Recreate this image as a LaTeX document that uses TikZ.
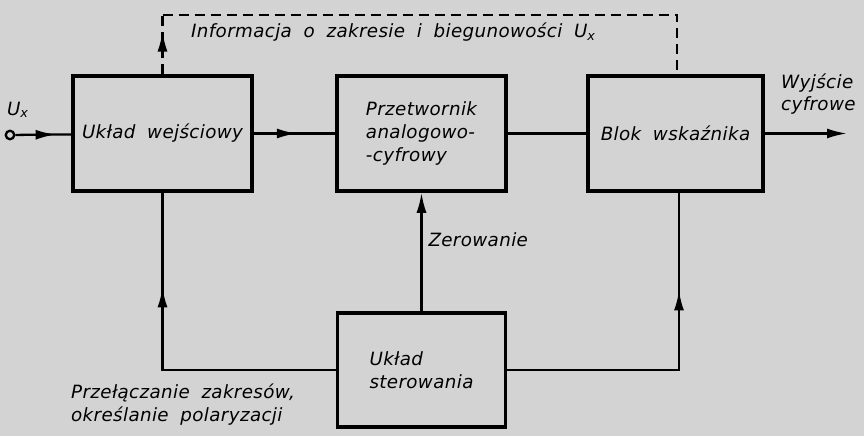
\documentclass[tikz,border=0pt]{standalone}
\usepackage{fontspec}
\setmainfont{DejaVu Sans}[LetterSpace=2, WordSpace=1.9]
\usetikzlibrary{arrows.meta,decorations.markings}
\definecolor{tlo}{RGB}{211,211,211}

\begin{document}
\begin{tikzpicture}[
    font=\fontsize{10.4}{13}\selectfont\itshape,
    >={Latex[length=4mm,width=2mm]},
    blok/.style={draw, line width=2pt, inner sep=0pt},
    linia/.style={line width=1.3pt},
    przerywana/.style={linia, dash pattern=on 2mm off 1.2mm},
    strzalka/.style={postaction={decorate},
        decoration={markings, mark=at position #1 with {\arrow{>}}}}
]

% Tlo
\fill[tlo, use as bounding box] (0,0) rectangle (17.28,8.72);

% Bloki
\node[blok, minimum width=3.58cm, minimum height=2.3cm] (wej) at (3.25,6.05) {Układ wejściowy};
\node[blok, minimum width=3.38cm, minimum height=2.3cm, align=left] (ac) at (8.43,6.05) {Przetwornik\\analogowo-\\-cyfrowy};
\node[blok, minimum width=3.5cm, minimum height=2.3cm] (wsk) at (13.51,6.05) {Blok wskaźnika};
\node[blok, minimum width=3.36cm, minimum height=2.28cm, align=left] (ster) at (8.43,1.32) {Układ\\sterowania};

% Wejscie i wyjscie
\node[draw, circle, linia, minimum size=0.17cm, inner sep=0pt] (we) at (0.2,6.02) {};
\node (ux) at (0.36,6.52) {U\textsubscript{x}};
\coordinate (wy) at (16.94,6.05);
\node[anchor=west, align=left] (wyj) at (15.5,6.84) {Wyjście\\cyfrowe};

% Tor glowny
\draw[linia, strzalka=0.72] (we) -- (wej);
\draw[linia, strzalka=0.53] (wej) -- (ac);
\draw[linia] (ac) -- (wsk);
\draw[linia, ->] (wsk) -- (wy);

% Informacja o zakresie
\coordinate (g1) at (3.25,8.42);
\coordinate (g2) at (13.54,8.42);
\draw[przerywana, strzalka=0.72] (wej) -- (g1);
\draw[przerywana] (g1) -- (g2) -- (g2 |- wsk.north);
\node[anchor=west] (info) at (3.7,8.08) {Informacja o zakresie i biegunowości U\textsubscript{x}};

% Uklad sterowania
\draw[linia, ->] (ster) -- node[right, pos=0.6] (zer) {Zerowanie} (ac);
\draw[linia, strzalka=0.73] (ster.west) -| (wej.south);
\draw[linia, strzalka=0.72] (ster.east) -| ([xshift=0.07cm]wsk.south);
\node[anchor=west, align=left] (prz) at (1.3,0.62) {Przełączanie zakresów,\\określanie polaryzacji};

\end{tikzpicture}
\end{document}
